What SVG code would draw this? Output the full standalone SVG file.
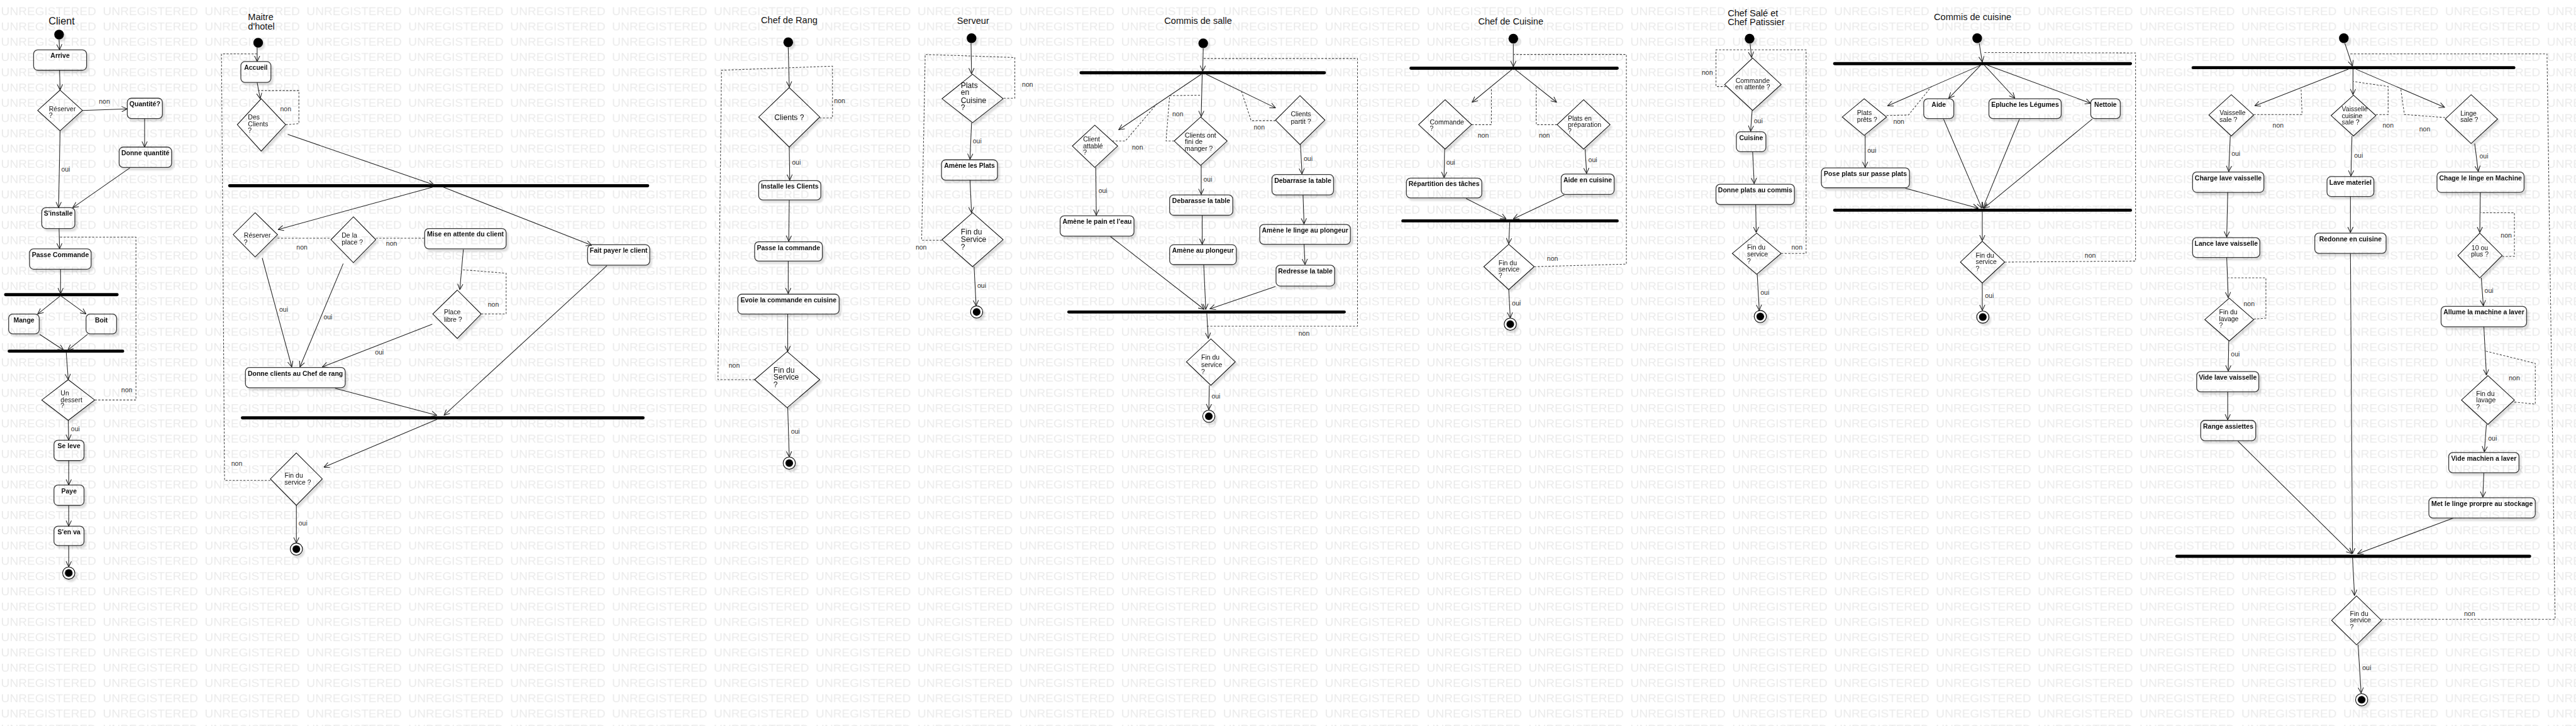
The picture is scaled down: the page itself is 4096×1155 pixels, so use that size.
<svg xmlns="http://www.w3.org/2000/svg" width="4096" height="1155" viewBox="0 0 4096 1155">
<defs>
<style>
.t{font-family:"Liberation Sans",Arial,sans-serif;fill:#111}
.ttl{font-size:18px;text-anchor:middle}
.tts{font-size:18px}
.lb{font-size:13px;font-weight:bold;text-anchor:middle}
.dt{font-size:13px}
.dm{font-size:13px;text-anchor:middle}
.d15{font-size:15px}
.gd{font-size:13px;fill:#333;text-anchor:middle}
.box{fill:#fff;stroke:#3a3a3a;stroke-width:1.6}
.dia{fill:#fff;stroke:#111;stroke-width:1.3}
.bar{stroke:#000;stroke-width:6;stroke-linecap:round}
.e{fill:none;stroke:#222;stroke-width:1.3;marker-end:url(#ah)}
.d{fill:none;stroke:#444;stroke-width:1.3;stroke-dasharray:4 3}
.ini{fill:#000}
.fin{fill:#fff;stroke:#000;stroke-width:1.3}
.n{filter:url(#sh)}
</style>
<marker id="ah" viewBox="0 0 12 12" refX="11.5" refY="6" markerWidth="12" markerHeight="12" markerUnits="userSpaceOnUse" orient="auto"><path d="M0.5,0.8 L11.5,6 L0.5,11.2" fill="none" stroke="#222" stroke-width="1.3"/></marker>
<filter id="sh" x="-20%" y="-20%" width="150%" height="160%"><feDropShadow dx="4" dy="5" stdDeviation="1.5" flood-color="#000" flood-opacity="0.12"/></filter>
<pattern id="wm" patternUnits="userSpaceOnUse" x="0" y="1" width="200" height="30"><text x="2" y="29" font-family="Liberation Sans, Arial, sans-serif" font-size="23" textLength="187" lengthAdjust="spacingAndGlyphs" fill="#000">UNREGISTERED</text></pattern>
</defs>
<rect width="4096" height="1155" fill="#fff"/>
<g transform="scale(0.80965)">

<!-- ===== Titles ===== -->
<g id="titles">
<text class="t" x="121" y="48" font-size="20" text-anchor="middle">Client</text>
<text class="t tts" x="487" y="39">Maitre</text>
<text class="t tts" x="487" y="58">d'hotel</text>
<text class="t ttl" x="1550" y="46">Chef de Rang</text>
<text class="t ttl" x="1911" y="47">Serveur</text>
<text class="t ttl" x="2353" y="47">Commis de salle</text>
<text class="t ttl" x="2967" y="48">Chef de Cuisine</text>
<text class="t tts" x="3393" y="32">Chef Salé et</text>
<text class="t tts" x="3393" y="49">Chef Patissier</text>
<text class="t ttl" x="3874" y="39">Commis de cuisine</text>
</g>

<!-- ===== CLIENT ===== -->
<g id="cl-start" class="n"><circle class="ini" cx="116" cy="68" r="9.5"/></g>
<g id="cl-arrive" class="n"><rect class="box" x="66" y="98" width="104" height="40" rx="8"/><text class="t lb" x="118" y="114">Arrive</text></g>
<g id="cl-reserver" class="n"><polygon class="dia" points="118,177 162,217 118,257 74,217"/><text class="t dt" x="96" y="219">Réserver</text><text class="t dt" x="96" y="231">?</text></g>
<g id="cl-quantite" class="n"><rect class="box" x="250" y="193" width="69" height="40" rx="8"/><text class="t lb" x="284.5" y="209">Quantité?</text></g>
<g id="cl-donne" class="n"><rect class="box" x="234" y="289" width="103" height="40" rx="8"/><text class="t lb" x="285.5" y="305">Donne quantité</text></g>
<g id="cl-installe" class="n"><rect class="box" x="82" y="408" width="65" height="41" rx="8"/><text class="t lb" x="114.5" y="424">S'installe</text></g>
<g id="cl-passe" class="n"><rect class="box" x="58" y="489" width="121" height="40" rx="8"/><text class="t lb" x="118.5" y="505">Passe Commande</text></g>
<g id="cl-fork"><line class="bar" x1="11" y1="579" x2="230" y2="579"/></g>
<g id="cl-mange" class="n"><rect class="box" x="17" y="617" width="60" height="39" rx="8"/><text class="t lb" x="47" y="633">Mange</text></g>
<g id="cl-boit" class="n"><rect class="box" x="169" y="617" width="60" height="39" rx="8"/><text class="t lb" x="199" y="633">Boit</text></g>
<g id="cl-join"><line class="bar" x1="18" y1="690" x2="241" y2="690"/></g>
<g id="cl-dessert" class="n"><polygon class="dia" points="134,746 186,786 134,826 82,786"/><text class="t dt" x="119" y="777">Un</text><text class="t dt" x="119" y="790">dessert</text><text class="t dt" x="119" y="802">?</text></g>
<g id="cl-seleve" class="n"><rect class="box" x="106" y="865" width="59" height="40" rx="8"/><text class="t lb" x="135.5" y="881">Se leve</text></g>
<g id="cl-paye" class="n"><rect class="box" x="106" y="953" width="59" height="40" rx="8"/><text class="t lb" x="135.5" y="969">Paye</text></g>
<g id="cl-senva" class="n"><rect class="box" x="106" y="1034" width="59" height="38" rx="8"/><text class="t lb" x="135.5" y="1050">S'en va</text></g>
<g id="cl-end" class="n"><circle class="fin" cx="135" cy="1126" r="12"/><circle class="ini" cx="135" cy="1126" r="7.5"/></g>

<!-- ===== MAITRE D'HOTEL ===== -->
<g id="mh-start" class="n"><circle class="ini" cx="507" cy="84" r="9.5"/></g>
<g id="mh-accueil" class="n"><rect class="box" x="473" y="121" width="59" height="41" rx="8"/><text class="t lb" x="502.5" y="137">Accueil</text></g>
<g id="mh-desclients" class="n"><polygon class="dia" points="513,194 561,245 513,297 466,245"/><text class="t dt" x="487" y="235">Des</text><text class="t dt" x="487" y="248">Clients</text><text class="t dt" x="487" y="261">?</text></g>
<g id="mh-fork"><line class="bar" x1="451" y1="365" x2="1272" y2="365"/></g>
<g id="mh-reserver" class="n"><polygon class="dia" points="501,418 545,461 501,505 458,461"/><text class="t dt" x="479" y="467">Réserver</text><text class="t dt" x="479" y="480">?</text></g>
<g id="mh-place" class="n"><polygon class="dia" points="694,426 738,471 694,516 650,471"/><text class="t dt" x="671" y="467">De la</text><text class="t dt" x="671" y="480">place ?</text></g>
<g id="mh-attente" class="n"><rect class="box" x="834" y="449" width="160" height="40" rx="8"/><text class="t lb" x="914" y="465">Mise en attente du client</text></g>
<g id="mh-payer" class="n"><rect class="box" x="1154" y="481" width="122" height="40" rx="8"/><text class="t lb" x="1215" y="497">Fait payer le client</text></g>
<g id="mh-libre" class="n"><polygon class="dia" points="898,570 945,617 898,665 850,617"/><text class="t dt" x="872" y="618">Place</text><text class="t dt" x="872" y="632">libre ?</text></g>
<g id="mh-donne" class="n"><rect class="box" x="482" y="722" width="196" height="40" rx="8"/><text class="t lb" x="580" y="738">Donne clients au Chef de rang</text></g>
<g id="mh-join"><line class="bar" x1="476" y1="821" x2="1263" y2="821"/></g>
<g id="mh-fin" class="n"><polygon class="dia" points="582,890 633,941 582,993 531,941"/><text class="t dt" x="559" y="939">Fin du</text><text class="t dt" x="559" y="952">service ?</text></g>
<g id="mh-end" class="n"><circle class="fin" cx="582" cy="1079" r="12"/><circle class="ini" cx="582" cy="1079" r="7.5"/></g>

<!-- ===== CHEF DE RANG ===== -->
<g id="cr-start" class="n"><circle class="ini" cx="1548" cy="83" r="9.5"/></g>
<g id="cr-clients" class="n"><polygon class="dia" points="1550,172 1610,230 1550,289 1490,230"/><text class="t d15" x="1550" y="236" text-anchor="middle">Clients ?</text></g>
<g id="cr-installe" class="n"><rect class="box" x="1490" y="355" width="122" height="38" rx="8"/><text class="t lb" x="1551" y="371">Installe les Clients</text></g>
<g id="cr-passe" class="n"><rect class="box" x="1482" y="475" width="133" height="38" rx="8"/><text class="t lb" x="1548.5" y="491">Passe la commande</text></g>
<g id="cr-envoie" class="n"><rect class="box" x="1449" y="578" width="199" height="39" rx="8"/><text class="t lb" x="1548.5" y="594">Evoie la commande en cuisine</text></g>
<g id="cr-fin" class="n"><polygon class="dia" points="1546,691 1610,746 1546,801 1482,746"/><text class="t d15" x="1519" y="732">Fin du</text><text class="t d15" x="1519" y="746">Service</text><text class="t d15" x="1519" y="761">?</text></g>
<g id="cr-end" class="n"><circle class="fin" cx="1550" cy="910" r="12"/><circle class="ini" cx="1550" cy="910" r="7.5"/></g>

<!-- ===== SERVEUR ===== -->
<g id="sv-start" class="n"><circle class="ini" cx="1908" cy="75" r="9.5"/></g>
<g id="sv-plats" class="n"><polygon class="dia" points="1910,146 1970,194 1910,241 1850,194"/><text class="t d15" x="1887" y="173">Plats</text><text class="t d15" x="1887" y="187">en</text><text class="t d15" x="1887" y="202">Cuisine</text><text class="t d15" x="1887" y="216">?</text></g>
<g id="sv-amene" class="n"><rect class="box" x="1849" y="314" width="110" height="40" rx="8"/><text class="t lb" x="1904" y="330">Amène les Plats</text></g>
<g id="sv-fin" class="n"><polygon class="dia" points="1910,418 1970,471 1910,524 1850,471"/><text class="t d15" x="1887" y="461">Fin du</text><text class="t d15" x="1887" y="476">Service</text><text class="t d15" x="1887" y="490">?</text></g>
<g id="sv-end" class="n"><circle class="fin" cx="1918" cy="613" r="12"/><circle class="ini" cx="1918" cy="613" r="7.5"/></g>

<!-- ===== COMMIS DE SALLE ===== -->
<g id="cs-start" class="n"><circle class="ini" cx="2363" cy="85" r="9.5"/></g>
<g id="cs-fork"><line class="bar" x1="2123" y1="143" x2="2601" y2="143"/></g>
<g id="cs-attable" class="n"><polygon class="dia" points="2150,246 2195,287 2150,329 2106,287"/><text class="t dt" x="2127" y="278">Client</text><text class="t dt" x="2127" y="291">attablé</text><text class="t dt" x="2127" y="304">?</text></g>
<g id="cs-fini" class="n"><polygon class="dia" points="2358,230 2410,277 2358,325 2306,277"/><text class="t dt" x="2327" y="270">Clients ont</text><text class="t dt" x="2327" y="283">fini de</text><text class="t dt" x="2327" y="296">manger ?</text></g>
<g id="cs-partit" class="n"><polygon class="dia" points="2553,188 2602,236 2553,284 2505,236"/><text class="t dt" x="2535" y="229">Clients</text><text class="t dt" x="2535" y="243">partit ?</text></g>
<g id="cs-pain" class="n"><rect class="box" x="2082" y="424" width="145" height="40" rx="8"/><text class="t lb" x="2154.5" y="440">Amène le pain et l'eau</text></g>
<g id="cs-debarasse" class="n"><rect class="box" x="2297" y="383" width="124" height="40" rx="8"/><text class="t lb" x="2359" y="399">Debarasse la table</text></g>
<g id="cs-plongeur" class="n"><rect class="box" x="2297" y="481" width="131" height="39" rx="8"/><text class="t lb" x="2362.5" y="497">Amène au plongeur</text></g>
<g id="cs-debarrase" class="n"><rect class="box" x="2498" y="343" width="121" height="40" rx="8"/><text class="t lb" x="2558.5" y="359">Debarrase la table</text></g>
<g id="cs-linge" class="n"><rect class="box" x="2474" y="441" width="178" height="39" rx="8"/><text class="t lb" x="2563" y="457">Amène le linge au plongeur</text></g>
<g id="cs-redresse" class="n"><rect class="box" x="2506" y="521" width="115" height="41" rx="8"/><text class="t lb" x="2563.5" y="537">Redresse la table</text></g>
<g id="cs-join"><line class="bar" x1="2099" y1="613" x2="2640" y2="613"/></g>
<g id="cs-fin" class="n"><polygon class="dia" points="2378,666 2426,711 2378,757 2330,711"/><text class="t dt" x="2359" y="707">Fin du</text><text class="t dt" x="2359" y="721">service</text><text class="t dt" x="2359" y="735">?</text></g>
<g id="cs-end" class="n"><circle class="fin" cx="2374" cy="818" r="12"/><circle class="ini" cx="2374" cy="818" r="7.5"/></g>

<!-- ===== CHEF DE CUISINE ===== -->
<g id="cc-start" class="n"><circle class="ini" cx="2972" cy="76" r="9.5"/></g>
<g id="cc-fork"><line class="bar" x1="2771" y1="134" x2="3176" y2="134"/></g>
<g id="cc-commande" class="n"><polygon class="dia" points="2838,196 2890,245 2838,293 2786,245"/><text class="t dt" x="2808" y="245">Commande</text><text class="t dt" x="2808" y="257">?</text></g>
<g id="cc-plats" class="n"><polygon class="dia" points="3110,196 3162,245 3110,293 3058,245"/><text class="t dt" x="3079" y="237">Plats en</text><text class="t dt" x="3079" y="250">préparation</text><text class="t dt" x="3079" y="262">?</text></g>
<g id="cc-repartition" class="n"><rect class="box" x="2762" y="350" width="148" height="39" rx="8"/><text class="t lb" x="2836" y="366">Répartition des tâches</text></g>
<g id="cc-aide" class="n"><rect class="box" x="3066" y="342" width="104" height="40" rx="8"/><text class="t lb" x="3118" y="358">Aide en cuisine</text></g>
<g id="cc-join"><line class="bar" x1="2755" y1="434" x2="3176" y2="434"/></g>
<g id="cc-fin" class="n"><polygon class="dia" points="2963,480 3013,524 2963,569 2914,524"/><text class="t dt" x="2943" y="521">Fin du</text><text class="t dt" x="2943" y="533">service</text><text class="t dt" x="2943" y="546">?</text></g>
<g id="cc-end" class="n"><circle class="fin" cx="2966" cy="637" r="12"/><circle class="ini" cx="2966" cy="637" r="7.5"/></g>

<!-- ===== CHEF SALE / PATISSIER ===== -->
<g id="cp-start" class="n"><circle class="ini" cx="3436" cy="76" r="9.5"/></g>
<g id="cp-attente" class="n"><polygon class="dia" points="3442,114 3498,166 3442,217 3387,166"/><text class="t dm" x="3442" y="163">Commande</text><text class="t dm" x="3442" y="176">en attente ?</text></g>
<g id="cp-cuisine" class="n"><rect class="box" x="3410" y="259" width="58" height="39" rx="8"/><text class="t lb" x="3439" y="275">Cuisine</text></g>
<g id="cp-donne" class="n"><rect class="box" x="3370" y="362" width="154" height="40" rx="8"/><text class="t lb" x="3447" y="378">Donne plats au commis</text></g>
<g id="cp-fin" class="n"><polygon class="dia" points="3450,458 3498,498 3450,539 3402,498"/><text class="t dt" x="3431" y="490">Fin du</text><text class="t dt" x="3431" y="504">service</text><text class="t dt" x="3431" y="518">?</text></g>
<g id="cp-end" class="n"><circle class="fin" cx="3457" cy="622" r="12"/><circle class="ini" cx="3457" cy="622" r="7.5"/></g>

<!-- ===== COMMIS DE CUISINE ===== -->
<g id="ck-start" class="n"><circle class="ini" cx="3883" cy="75" r="9.5"/></g>
<g id="ck-fork"><line class="bar" x1="3603" y1="125" x2="4184" y2="125"/></g>
<g id="ck-prets" class="n"><polygon class="dia" points="3661,194 3705,230 3661,266 3618,230"/><text class="t dt" x="3647" y="226">Plats</text><text class="t dt" x="3647" y="240">prêts ?</text></g>
<g id="ck-aide" class="n"><rect class="box" x="3778" y="194" width="59" height="39" rx="8"/><text class="t lb" x="3807.5" y="210">Aide</text></g>
<g id="ck-epluche" class="n"><rect class="box" x="3906" y="194" width="142" height="39" rx="8"/><text class="t lb" x="3977" y="210">Epluche les Légumes</text></g>
<g id="ck-nettoie" class="n"><rect class="box" x="4106" y="194" width="58" height="39" rx="8"/><text class="t lb" x="4135" y="210">Nettoie</text></g>
<g id="ck-pose" class="n"><rect class="box" x="3577" y="330" width="173" height="39" rx="8"/><text class="t lb" x="3663.5" y="346">Pose plats sur passe plats</text></g>
<g id="ck-join"><line class="bar" x1="3603" y1="413" x2="4184" y2="413"/></g>
<g id="ck-fin" class="n"><polygon class="dia" points="3893,474 3937,515 3893,556 3850,515"/><text class="t dt" x="3880" y="507">Fin du</text><text class="t dt" x="3880" y="519">service</text><text class="t dt" x="3880" y="532">?</text></g>
<g id="ck-end" class="n"><circle class="fin" cx="3894" cy="623" r="12"/><circle class="ini" cx="3894" cy="623" r="7.5"/></g>

<!-- ===== PLONGE (no title) ===== -->
<g id="pl-start" class="n"><circle class="ini" cx="4603" cy="75" r="9.5"/></g>
<g id="pl-fork"><line class="bar" x1="4307" y1="133" x2="4937" y2="133"/></g>
<g id="pl-vsale" class="n"><polygon class="dia" points="4382,186 4426,226 4382,267 4338,226"/><text class="t dt" x="4359" y="226">Vaisselle</text><text class="t dt" x="4359" y="239">sale ?</text></g>
<g id="pl-vcuisine" class="n"><polygon class="dia" points="4622,187 4666,227 4622,267 4578,227"/><text class="t dt" x="4599" y="219">Vaisselle</text><text class="t dt" x="4599" y="232">cuisine</text><text class="t dt" x="4599" y="245">sale ?</text></g>
<g id="pl-linge" class="n"><polygon class="dia" points="4853,186 4905,234 4853,282 4802,234"/><text class="t dt" x="4832" y="227">Linge</text><text class="t dt" x="4832" y="240">sale ?</text></g>
<g id="pl-charge" class="n"><rect class="box" x="4306" y="338" width="140" height="40" rx="8"/><text class="t lb" x="4376" y="354">Charge lave vaisselle</text></g>
<g id="pl-lance" class="n"><rect class="box" x="4306" y="467" width="132" height="39" rx="8"/><text class="t lb" x="4372" y="483">Lance lave vaisselle</text></g>
<g id="pl-finlav1" class="n"><polygon class="dia" points="4378,586 4426,628 4378,670 4330,628"/><text class="t dt" x="4358" y="618">Fin du</text><text class="t dt" x="4358" y="631">lavage</text><text class="t dt" x="4358" y="643">?</text></g>
<g id="pl-vide" class="n"><rect class="box" x="4314" y="730" width="122" height="40" rx="8"/><text class="t lb" x="4375" y="746">Vide lave vaisselle</text></g>
<g id="pl-range" class="n"><rect class="box" x="4322" y="826" width="108" height="40" rx="8"/><text class="t lb" x="4376" y="842">Range assiettes</text></g>
<g id="pl-lave" class="n"><rect class="box" x="4570" y="347" width="92" height="39" rx="8"/><text class="t lb" x="4616" y="363">Lave materiel</text></g>
<g id="pl-redonne" class="n"><rect class="box" x="4546" y="458" width="140" height="40" rx="8"/><text class="t lb" x="4616" y="474">Redonne en cuisine</text></g>
<g id="pl-chage" class="n"><rect class="box" x="4786" y="338" width="171" height="40" rx="8"/><text class="t lb" x="4871.5" y="354">Chage le linge en Machine</text></g>
<g id="pl-dix" class="n"><polygon class="dia" points="4870,458 4914,502 4870,546 4827,502"/><text class="t dm" x="4870" y="491">10 ou</text><text class="t dm" x="4870" y="504">plus ?</text></g>
<g id="pl-allume" class="n"><rect class="box" x="4794" y="602" width="168" height="40" rx="8"/><text class="t lb" x="4878" y="618">Allume la machine a laver</text></g>
<g id="pl-finlav2" class="n"><polygon class="dia" points="4886,738 4938,786 4886,834 4834,786"/><text class="t dt" x="4863" y="778">Fin du</text><text class="t dt" x="4863" y="791">lavage</text><text class="t dt" x="4863" y="804">?</text></g>
<g id="pl-videm" class="n"><rect class="box" x="4809" y="889" width="138" height="40" rx="8"/><text class="t lb" x="4878" y="905">Vide machien a laver</text></g>
<g id="pl-met" class="n"><rect class="box" x="4770" y="978" width="209" height="40" rx="8"/><text class="t lb" x="4874.5" y="994">Met le linge prorpre au stockage</text></g>
<g id="pl-join"><line class="bar" x1="4275" y1="1093" x2="4968" y2="1093"/></g>
<g id="pl-fin" class="n"><polygon class="dia" points="4628,1171 4677,1219 4628,1267 4579,1219"/><text class="t dt" x="4615" y="1210">Fin du</text><text class="t dt" x="4615" y="1223">service</text><text class="t dt" x="4615" y="1236">?</text></g>
<g id="pl-end" class="n"><circle class="fin" cx="4638" cy="1375" r="12"/><circle class="ini" cx="4638" cy="1375" r="7.5"/></g>

<!-- ===== CONNECTORS ===== -->
<g id="connectors">
<!-- Client -->
<path class="e" d="M116,78 L117,98"/>
<path class="e" d="M117,138 L118,177"/>
<path class="e" d="M162,217 L250,214"/>
<path class="e" d="M284,233 L284,289"/>
<path class="e" d="M255,330 L143,408"/>
<path class="e" d="M118,257 L115,408"/>
<path class="e" d="M116,449 L117,489"/>
<path class="e" d="M119,529 L119,577"/>
<path class="e" d="M119,581 L74,617"/>
<path class="e" d="M119,581 L169,617"/>
<path class="e" d="M78,657 L125,688"/>
<path class="e" d="M172,657 L133,688"/>
<path class="e" d="M130,692 L134,746"/>
<path class="e" d="M134,826 L135,865"/>
<path class="e" d="M135,905 L135,953"/>
<path class="e" d="M135,993 L135,1034"/>
<path class="e" d="M135,1072 L135,1114"/>
<path class="d" d="M186,786 L267,786 L267,466 L117,466"/>
<text class="t gd" x="205" y="204">non</text>
<text class="t gd" x="129" y="337">oui</text>
<text class="t gd" x="148" y="847">oui</text>
<text class="t gd" x="249" y="771">non</text>

<!-- Maitre d'hotel -->
<path class="e" d="M505,93 L505,121"/>
<path class="e" d="M505,162 L511,194"/>
<path class="d" d="M561,245 L587,243 L587,178 L507,178"/>
<path class="e" d="M565,264 L852,363"/>
<path class="e" d="M852,367 L546,451"/>
<path class="e" d="M869,367 L1162,482"/>
<path class="d" d="M545,468 L650,468"/>
<path class="d" d="M738,468 L834,468"/>
<path class="e" d="M910,490 L903,569"/>
<path class="d" d="M945,617 L994,617 L994,537 L908,530"/>
<path class="e" d="M515,507 L573,721"/>
<path class="e" d="M674,518 L589,721"/>
<path class="e" d="M849,637 L633,721"/>
<path class="e" d="M658,763 L858,816"/>
<path class="e" d="M1192,522 L872,816"/>
<path class="e" d="M858,824 L636,918"/>
<path class="d" d="M531,944 L441,944 L435,106 L505,106"/>
<path class="e" d="M582,993 L582,1067"/>
<text class="t gd" x="561" y="219">non</text>
<text class="t gd" x="593" y="490">non</text>
<text class="t gd" x="769" y="483">non</text>
<text class="t gd" x="969" y="603">non</text>
<text class="t gd" x="557" y="613">oui</text>
<text class="t gd" x="644" y="628">oui</text>
<text class="t gd" x="745" y="696">oui</text>
<text class="t gd" x="465" y="915">non</text>
<text class="t gd" x="595" y="1033">oui</text>

<!-- Chef de Rang -->
<path class="e" d="M1548,93 L1550,171"/>
<path class="d" d="M1482,746 L1410,746 L1417,138 L1635,130 L1635,232 L1610,232"/>
<path class="e" d="M1550,289 L1551,354"/>
<path class="e" d="M1550,393 L1549,474"/>
<path class="e" d="M1548,513 L1548,577"/>
<path class="e" d="M1547,617 L1547,691"/>
<path class="e" d="M1547,801 L1550,898"/>
<text class="t gd" x="1649" y="202">non</text>
<text class="t gd" x="1442" y="723">non</text>
<text class="t gd" x="1564" y="323">oui</text>
<text class="t gd" x="1562" y="852">oui</text>

<!-- Serveur -->
<path class="e" d="M1907,85 L1908,145"/>
<path class="d" d="M1850,472 L1810,472 L1817,107 L1993,113 L1993,193 L1970,193"/>
<path class="e" d="M1908,241 L1905,313"/>
<path class="e" d="M1905,354 L1908,418"/>
<path class="e" d="M1913,524 L1917,601"/>
<text class="t gd" x="2018" y="171">non</text>
<text class="t gd" x="1809" y="490">non</text>
<text class="t gd" x="1919" y="281">oui</text>
<text class="t gd" x="1928" y="566">oui</text>

<!-- Commis de salle -->
<path class="e" d="M2363,95 L2362,140"/>
<path class="d" d="M2370,641 L2666,641 L2666,115 L2363,115"/>
<path class="e" d="M2359,146 L2197,255"/>
<path class="e" d="M2361,146 L2359,229"/>
<path class="e" d="M2369,146 L2505,212"/>
<path class="d" d="M2184,277 L2210,277 L2272,204"/>
<path class="d" d="M2306,277 L2290,277 L2297,188 L2360,187"/>
<path class="d" d="M2505,237 L2457,237 L2438,179"/>
<path class="e" d="M2152,329 L2153,423"/>
<path class="e" d="M2359,325 L2359,382"/>
<path class="e" d="M2361,423 L2361,480"/>
<path class="e" d="M2554,284 L2557,342"/>
<path class="e" d="M2559,383 L2561,440"/>
<path class="e" d="M2561,480 L2563,520"/>
<path class="e" d="M2181,465 L2365,608"/>
<path class="e" d="M2364,520 L2368,608"/>
<path class="e" d="M2505,563 L2376,607"/>
<path class="e" d="M2370,616 L2373,665"/>
<path class="e" d="M2375,757 L2374,805"/>
<text class="t gd" x="2234" y="294">non</text>
<text class="t gd" x="2313" y="229">non</text>
<text class="t gd" x="2473" y="254">non</text>
<text class="t gd" x="2166" y="379">oui</text>
<text class="t gd" x="2372" y="357">oui</text>
<text class="t gd" x="2569" y="316">oui</text>
<text class="t gd" x="2561" y="659">non</text>
<text class="t gd" x="2388" y="783">oui</text>

<!-- Chef de Cuisine -->
<path class="e" d="M2972,86 L2972,131"/>
<path class="d" d="M3013,524 L3194,519 L3194,107 L2973,107"/>
<path class="e" d="M2970,136 L2891,201"/>
<path class="e" d="M2975,136 L3057,201"/>
<path class="d" d="M2890,245 L2929,245 L2929,172"/>
<path class="d" d="M3058,245 L3017,245 L3017,172"/>
<path class="e" d="M2837,293 L2836,349"/>
<path class="e" d="M3113,293 L3116,341"/>
<path class="e" d="M2879,390 L2958,430"/>
<path class="e" d="M3072,383 L2972,430"/>
<path class="e" d="M2965,437 L2963,479"/>
<path class="e" d="M2963,569 L2966,625"/>
<text class="t gd" x="2913" y="270">non</text>
<text class="t gd" x="3033" y="270">non</text>
<text class="t gd" x="2849" y="324">oui</text>
<text class="t gd" x="3128" y="319">oui</text>
<text class="t gd" x="3049" y="512">non</text>
<text class="t gd" x="2978" y="600">oui</text>

<!-- Chef Salé / Patissier -->
<path class="e" d="M3437,86 L3440,113"/>
<path class="d" d="M3390,170 L3370,170 L3370,98 L3547,98 L3547,498 L3498,498"/>
<path class="e" d="M3441,217 L3438,258"/>
<path class="e" d="M3442,298 L3445,361"/>
<path class="e" d="M3448,402 L3449,457"/>
<path class="e" d="M3451,539 L3455,610"/>
<text class="t gd" x="3353" y="147">non</text>
<text class="t gd" x="3529" y="490">non</text>
<text class="t gd" x="3453" y="242">oui</text>
<text class="t gd" x="3466" y="579">oui</text>

<!-- Commis de cuisine -->
<path class="e" d="M3887,85 L3893,122"/>
<path class="d" d="M3937,515 L4194,513 L4194,104 L3894,103"/>
<path class="e" d="M3890,128 L3707,208"/>
<path class="e" d="M3890,128 L3827,193"/>
<path class="e" d="M3897,128 L3957,193"/>
<path class="e" d="M3903,128 L4106,203"/>
<path class="d" d="M3705,227 L3748,226 L3794,169"/>
<path class="e" d="M3663,266 L3663,329"/>
<path class="e" d="M3742,370 L3885,409"/>
<path class="e" d="M3817,234 L3892,409"/>
<path class="e" d="M3966,234 L3894,409"/>
<path class="e" d="M4109,234 L3896,409"/>
<path class="e" d="M3893,415 L3893,473"/>
<path class="e" d="M3893,556 L3893,610"/>
<text class="t gd" x="3729" y="243">non</text>
<text class="t gd" x="3676" y="300">oui</text>
<text class="t gd" x="4105" y="507">non</text>
<text class="t gd" x="3907" y="586">oui</text>

<!-- Plonge -->
<path class="e" d="M4605,85 L4620,130"/>
<path class="d" d="M4677,1217 L5018,1217 L5002,106 L4615,106"/>
<path class="e" d="M4612,136 L4428,208"/>
<path class="e" d="M4621,136 L4621,186"/>
<path class="e" d="M4627,136 L4801,211"/>
<path class="d" d="M4426,225 L4521,225 L4519,172"/>
<path class="d" d="M4666,225 L4690,225 L4690,170 L4621,160"/>
<path class="d" d="M4802,231 L4722,225 L4715,176"/>
<path class="e" d="M4380,267 L4377,337"/>
<path class="e" d="M4375,378 L4373,466"/>
<path class="e" d="M4373,506 L4376,585"/>
<path class="d" d="M4426,627 L4450,625 L4450,546 L4376,546"/>
<path class="e" d="M4377,670 L4376,729"/>
<path class="e" d="M4375,770 L4375,825"/>
<path class="e" d="M4395,867 L4619,1088"/>
<path class="e" d="M4619,267 L4617,346"/>
<path class="e" d="M4616,386 L4616,457"/>
<path class="e" d="M4616,498 L4620,1088"/>
<path class="e" d="M4860,282 L4867,337"/>
<path class="e" d="M4871,378 L4870,457"/>
<path class="d" d="M4914,504 L4938,504 L4938,418 L4872,418"/>
<path class="e" d="M4873,546 L4877,601"/>
<path class="e" d="M4878,642 L4883,737"/>
<path class="d" d="M4938,790 L4979,794 L4979,714 L4882,690"/>
<path class="e" d="M4883,834 L4879,888"/>
<path class="e" d="M4878,929 L4876,977"/>
<path class="e" d="M4818,1018 L4630,1088"/>
<path class="e" d="M4620,1095 L4624,1170"/>
<path class="e" d="M4631,1267 L4637,1362"/>
<text class="t gd" x="4474" y="251">non</text>
<text class="t gd" x="4690" y="251">non</text>
<text class="t gd" x="4762" y="258">non</text>
<text class="t gd" x="4391" y="306">oui</text>
<text class="t gd" x="4632" y="310">oui</text>
<text class="t gd" x="4878" y="311">oui</text>
<text class="t gd" x="4417" y="602">non</text>
<text class="t gd" x="4390" y="700">oui</text>
<text class="t gd" x="4922" y="467">non</text>
<text class="t gd" x="4888" y="575">oui</text>
<text class="t gd" x="4938" y="747">non</text>
<text class="t gd" x="4895" y="866">oui</text>
<text class="t gd" x="4850" y="1211">non</text>
<text class="t gd" x="4648" y="1317">oui</text>
</g>

<!-- watermark -->
<rect id="watermark" x="0" y="0" width="5059" height="1427" fill="url(#wm)" opacity="0.085"/>
</g>
</svg>
